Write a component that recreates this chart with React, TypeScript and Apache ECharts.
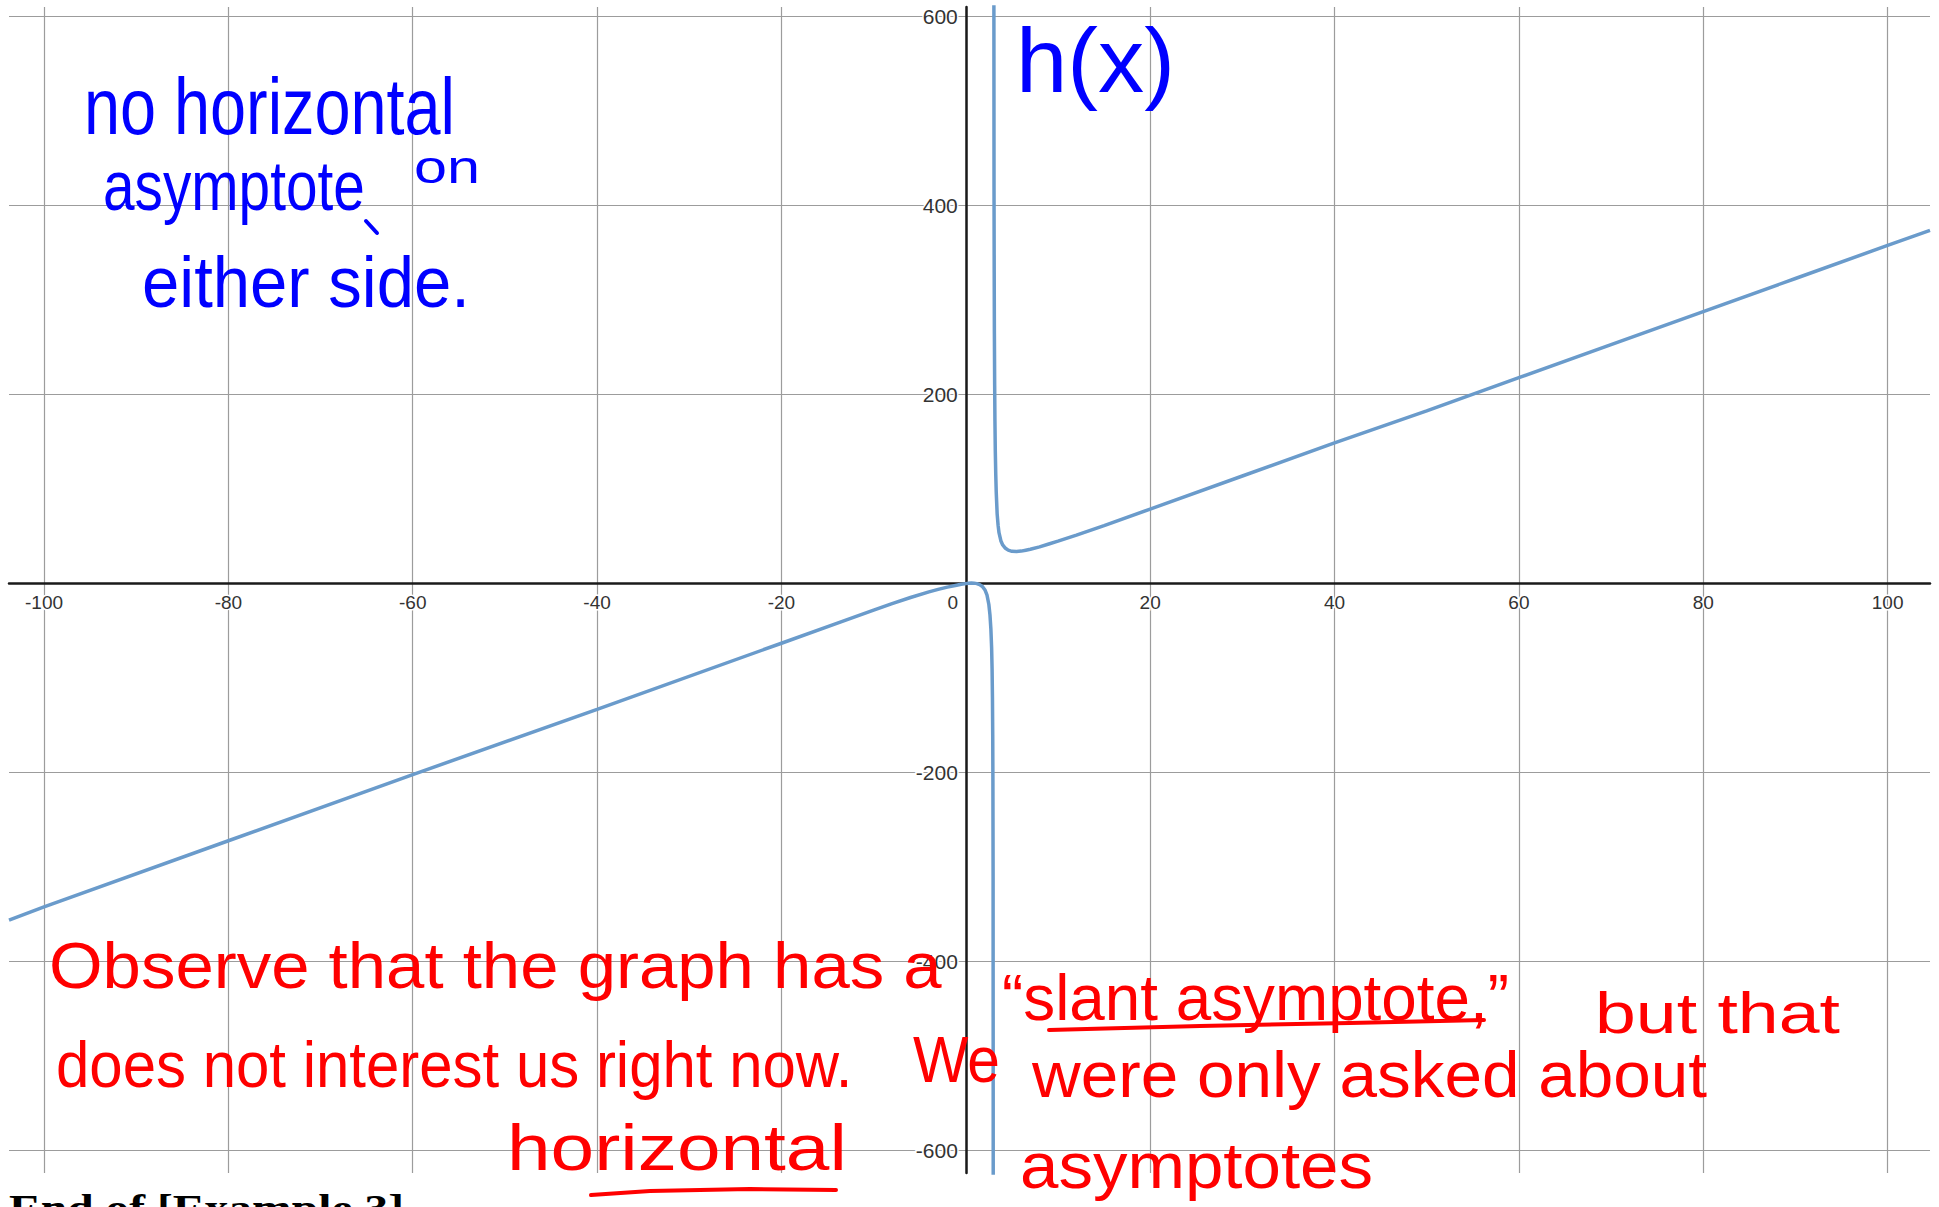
import React, { useEffect, useRef } from "react";
import * as echarts from "echarts";

// ---- data ----
const xTickValues = [-100, -80, -60, -40, -20, 0, 20, 40, 60, 80, 100];
const yTickValues = [-600, -400, -200, 0, 200, 400, 600];
const yLabelValues = [-600, -400, -200, 200, 400, 600];
const xRange = [-103.8, 104.6];
const yRange = [-623.6, 610.3];

// branch of h(x) left of the vertical asymptote (x ~ 3)
const leftX = [-103.8, -100, -80, -60, -40, -20, -14, -10, -8, -6, -4, -3, -2, -1, -0.5, 0, 0.3, 0.6, 0.9, 1.2, 1.5, 1.8, 2.1, 2.3, 2.5, 2.62, 2.72, 2.8, 2.85, 2.89, 2.92, 2.94, 2.96, 2.975];
const leftY = [-356, -342, -272, -202, -133, -63, -42, -28, -21, -14.6, -8.6, -6, -3.6, -1.6, -0.6, 0.1, 0.5, 0.7, 0.6, 0.1, -1, -3, -7, -12, -22, -33, -48, -68, -90, -120, -160, -210, -310, -650];

// branch of h(x) right of the vertical asymptote
const rightX = [3.04, 3.06, 3.08, 3.1, 3.13, 3.16, 3.2, 3.25, 3.3, 3.4, 3.5, 3.6, 3.8, 4, 4.3, 4.6, 5, 5.5, 6, 6.5, 7, 8, 9, 10, 12, 15, 20, 30, 40, 50, 60, 70, 80, 90, 100, 104.6];
const rightY = [700, 420, 330, 265, 210, 172, 140, 115, 97, 74, 62, 54, 45.5, 41, 37.5, 35.5, 34.3, 34, 34.5, 35.5, 36.5, 39, 42, 45, 51.5, 61.5, 79, 114, 149, 183, 218, 253, 288, 323, 358, 374];

// ---- handwritten notes (texts) ----
const blueTexts = ["no horizontal", "asymptote", "on", "either side.", "h(x)"];
const redTexts = [
  "Observe that the graph has a",
  "\u201cslant asymptote,\u201d",
  "but that",
  "does not interest us right now.",
  "We",
  "were only asked about",
  "horizontal",
  "asymptotes",
];
const footerText = "End of [Example 3]";

// ---- layout of the notes (pixels) ----
const blueLayout = [
  { x: 84, w: 371, base: 134, size: 80 },
  { x: 103, w: 262, base: 210, size: 70 },
  { x: 414, w: 66, base: 183, size: 46 },
  { x: 142, w: 328, base: 307, size: 72 },
  { x: 1016, w: 159, base: 92, size: 90 },
];
const redLayout = [
  { x: 49, w: 893, base: 988, size: 64 },
  { x: 1002, w: 507, base: 1020, size: 64 },
  { x: 1595, w: 245, base: 1033, size: 58 },
  { x: 56, w: 797, base: 1087, size: 64 },
  { x: 913, w: 87, base: 1082, size: 64 },
  { x: 1032, w: 675, base: 1097, size: 64 },
  { x: 507, w: 340, base: 1170, size: 64 },
  { x: 1020, w: 353, base: 1188, size: 64 },
];

const BLUE = "#0000ff";
const RED = "#ff0000";
const CURVE = "#6a9bcb";
const GRID = "#9c9c9c";
const AXIS = "#1a1a1a";
const HAND_FONT = "Liberation Sans";

const W = 1939;
const H = 1207;
const GRID_BOX = { left: 9, right: 9, top: 7, bottom: 34 };

export default function App() {
  const ref = useRef<HTMLDivElement>(null);

  useEffect(() => {
    const el = ref.current!;
    const chart = echarts.init(el, null, { renderer: "svg" });
    const ctx = document.createElement("canvas").getContext("2d")!;

    const textEl = (
      text: string,
      lay: { x: number; w: number; base: number; size: number },
      color: string,
      family: string,
      bold = false
    ) => {
      ctx.font = `${bold ? "bold " : ""}${lay.size}px "${family}"`;
      const m = ctx.measureText(text).width || 1;
      return {
        type: "text",
        x: lay.x,
        y: lay.base - 0.35 * lay.size,
        scaleX: lay.w / m,
        z: 100,
        silent: true,
        style: {
          text,
          x: 0,
          y: 0,
          fill: color,
          fontSize: lay.size,
          fontFamily: family,
          fontWeight: bold ? "bold" : "normal",
          align: "left",
          verticalAlign: "middle",
        },
      };
    };

    const elements: any[] = [];
    blueTexts.forEach((t, i) => elements.push(textEl(t, blueLayout[i], BLUE, HAND_FONT)));
    redTexts.forEach((t, i) => elements.push(textEl(t, redLayout[i], RED, HAND_FONT)));
    elements.push(
      textEl(footerText, { x: 9, w: 395, base: 1223, size: 40 }, "#000", "Liberation Serif", true)
    );
    elements.push({
      type: "line",
      z: 100,
      silent: true,
      shape: { x1: 366, y1: 221, x2: 377, y2: 233 },
      style: { stroke: BLUE, lineWidth: 4, lineCap: "round" },
    });
    elements.push({
      type: "polyline",
      z: 100,
      silent: true,
      shape: { points: [[1049, 1030], [1200, 1026], [1350, 1023], [1484, 1020]] },
      style: { stroke: RED, lineWidth: 4, lineCap: "round", fill: "none" },
    });
    elements.push({
      type: "polyline",
      z: 100,
      silent: true,
      shape: { points: [[591, 1195], [650, 1191], [750, 1189], [836, 1190]] },
      style: { stroke: RED, lineWidth: 4, lineCap: "round", fill: "none" },
    });

    const labelStyle = {
      fontFamily: "Liberation Sans",
      color: "#333",
      textBorderColor: "#fff",
      textBorderWidth: 3,
    };

    // place the axes through the origin
    const gridW = W - GRID_BOX.left - GRID_BOX.right;
    const gridH = H - GRID_BOX.top - GRID_BOX.bottom;
    const xAxisOffset = -((0 - yRange[0]) / (yRange[1] - yRange[0])) * gridH;
    const yAxisOffset = -((0 - xRange[0]) / (xRange[1] - xRange[0])) * gridW;

    const option: any = {
      animation: false,
      backgroundColor: "#fff",
      grid: { ...GRID_BOX, containLabel: false, outerBoundsMode: "none" },
      xAxis: {
        type: "value",
        position: "bottom",
        offset: xAxisOffset,
        min: xRange[0],
        max: xRange[1],
        axisLine: { show: true, onZero: false, lineStyle: { color: AXIS, width: 2.5 } },
        axisTick: { show: false, customValues: xTickValues },
        splitLine: { show: true, lineStyle: { color: GRID, width: 1.2 } },
        axisLabel: {
          ...labelStyle,
          fontSize: 19,
          margin: 9,
          customValues: xTickValues,
          formatter: (v: number) => (v === 0 ? "{z|0}" : String(v)),
          rich: { z: { ...labelStyle, fontSize: 19, padding: [0, 26, 0, 0] } },
        },
      },
      yAxis: {
        type: "value",
        position: "left",
        offset: yAxisOffset,
        min: yRange[0],
        max: yRange[1],
        axisLine: { show: true, onZero: false, lineStyle: { color: AXIS, width: 2.5 } },
        axisTick: { show: false, customValues: yTickValues },
        splitLine: { show: true, lineStyle: { color: GRID, width: 1.2 } },
        axisLabel: {
          ...labelStyle,
          fontSize: 21,
          margin: 8,
          customValues: yLabelValues,
          formatter: (v: number) => String(v),
        },
      },
      series: [
        {
          name: "h(x) left",
          type: "line",
          data: leftX.map((x, i) => [x, leftY[i]]),
          showSymbol: false,
          smooth: false,
          clip: true,
          lineStyle: { color: CURVE, width: 3.5 },
        },
        {
          name: "h(x) right",
          type: "line",
          data: rightX.map((x, i) => [x, rightY[i]]),
          showSymbol: false,
          smooth: false,
          clip: true,
          lineStyle: { color: CURVE, width: 3.5 },
        },
      ],
      graphic: { elements },
    };

    chart.setOption(option);
    return () => chart.dispose();
  }, []);

  return (
    <div
      ref={ref}
      style={{ position: "absolute", left: 0, top: 0, width: W, height: H, background: "#fff" }}
    />
  );
}
